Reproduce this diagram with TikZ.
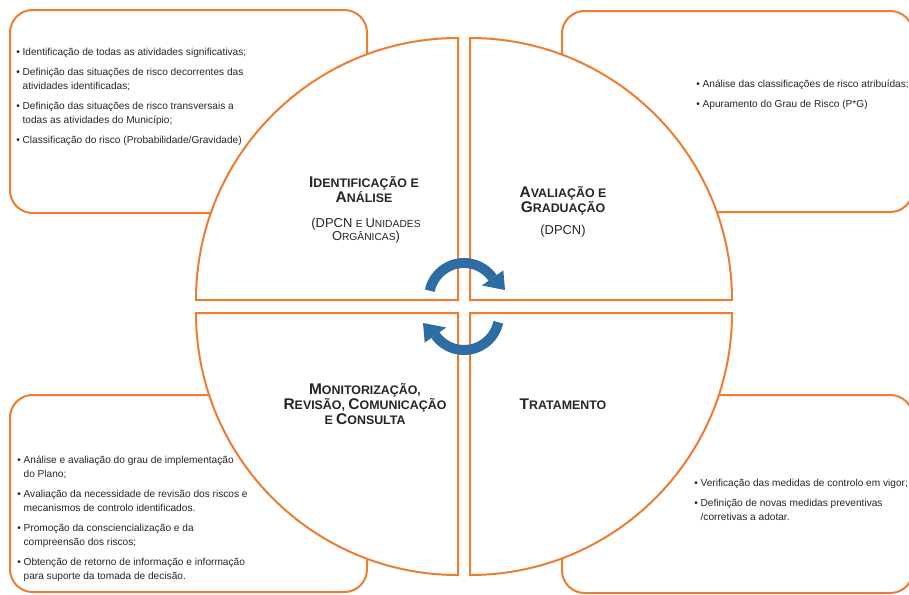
\documentclass[tikz,border=0pt]{standalone}
\usepackage{fontspec}
\setmainfont{Liberation Sans}
\definecolor{orng}{RGB}{237,125,49}
\definecolor{arrblue}{RGB}{46,109,164}
\definecolor{txt}{RGB}{38,38,38}
\newcommand\Lb[1]{{\fontsize{11.6}{11.6}\selectfont #1}}
\newcommand\Sb[1]{{\fontsize{9.3}{9.3}\selectfont #1}}
\newcommand\Lr[1]{{\fontsize{9.7}{9.7}\selectfont #1}}
\newcommand\Sr[1]{{\fontsize{7.7}{7.7}\selectfont #1}}
\newcommand\ind{\hphantom{•\ }}
\begin{document}
\begin{tikzpicture}[x=0.75pt,y=-0.75pt,
  box/.style={draw=orng,line width=1.5pt,rounded corners=17pt,fill=white},
  quad/.style={draw=orng,line width=1.5pt,fill=white},
  bullets/.style={anchor=base west,inner sep=0pt,text=txt,font=\fontsize{7.6}{10.5}\selectfont},
  title/.style={anchor=base,inner sep=0pt,text=txt,font=\bfseries},
  sub/.style={anchor=base,inner sep=0pt,text=txt},
  cyc/.style={arrblue,line width=7.5pt}]
\useasboundingbox (0,0) rectangle (909,594);
\fill[white] (0,0) rectangle (909,594);
% side boxes
\draw[box] (10,10) rectangle (367,213);
\draw[box] (562,11) rectangle (913,212);
\draw[box] (10,395) rectangle (367,592);
\draw[box] (562,395) rectangle (913,593);
% quadrants
\draw[quad] (458,300) -- (196,300) arc[start angle=180,end angle=270,radius=262] -- cycle;
\draw[quad] (470,300) -- (732,300) arc[start angle=0,end angle=-90,radius=262] -- cycle;
\draw[quad] (458,313) -- (196,313) arc[start angle=180,end angle=90,radius=262] -- cycle;
\draw[quad] (470,313) -- (732,313) arc[start angle=0,end angle=90,radius=262] -- cycle;
% cycle arrows
\draw[cyc] (429.76,290.72) arc[start angle=-168,end angle=-35,radius=35];
\fill[arrblue] (481.8,285.5) -- (503.3,270.4) -- (505,290) -- cycle;
\begin{scope}[rotate around={180:(464,306.5)}]
\draw[cyc] (429.76,290.72) arc[start angle=-168,end angle=-35,radius=35];
\fill[arrblue] (481.8,285.5) -- (503.3,270.4) -- (505,290) -- cycle;
\end{scope}
% titles
\node[title] (t1a) at (364,187) {\vtop{\baselineskip=11.25pt\halign{\hfil#\hfil\cr
  \Lb{I}\Sb{DENTIFICAÇÃO E}\cr \Lb{A}\Sb{NÁLISE}\cr}}};
\node[sub] (t1b) at (366,227) {\vtop{\baselineskip=9.75pt\halign{\hfil#\hfil\cr
  \Lr{(DPCN }\Sr{E }\Lr{U}\Sr{NIDADES}\cr \Lr{O}\Sr{RGÂNICAS}\Lr{)}\cr}}};
\node[title] (t2a) at (563,197) {\vtop{\baselineskip=11.25pt\halign{\hfil#\hfil\cr
  \Lb{A}\Sb{VALIAÇÃO E}\cr \Lb{G}\Sb{RADUAÇÃO}\cr}}};
\node[sub] (t2b) at (563,234) {\Lr{(DPCN)}};
\node[title] (t3) at (365,394) {\vtop{\baselineskip=11.25pt\halign{\hfil#\hfil\cr
  \Lb{M}\Sb{ONITORIZAÇÃO,}\cr \Lb{R}\Sb{EVISÃO, }\Lb{C}\Sb{OMUNICAÇÃO}\cr \Sb{E }\Lb{C}\Sb{ONSULTA}\cr}}};
\node[title] (t4) at (563,409) {\Lb{T}\Sb{RATAMENTO}};
% bullet lists
\node[bullets] (tl) at (16,55.5) {\vtop{\baselineskip=10.5pt
  \hbox{•\ Identificação de todas as atividades significativas;}\vskip4.5pt
  \hbox{•\ Definição das situações de risco decorrentes das}
  \hbox{\ind atividades identificadas;}\vskip4.5pt
  \hbox{•\ Definição das situações de risco transversais a}
  \hbox{\ind todas as atividades do Município;}\vskip4.5pt
  \hbox{•\ Classificação do risco (Probabilidade/Gravidade)}}};
\node[bullets] (tr) at (696,87.5) {\vtop{\baselineskip=10.5pt
  \hbox{•\ Análise das classificações de risco atribuídas;}\vskip4.5pt
  \hbox{•\ Apuramento do Grau de Risco (P*G)}}};
\node[bullets] (bl) at (17,463.5) {\vtop{\baselineskip=10.5pt
  \hbox{•\ Análise e avaliação do grau de implementação}
  \hbox{\ind do Plano;}\vskip4.5pt
  \hbox{•\ Avaliação da necessidade de revisão dos riscos e}
  \hbox{\ind mecanismos de controlo identificados.}\vskip4.5pt
  \hbox{•\ Promoção da consciencialização e da}
  \hbox{\ind compreensão dos riscos;}\vskip4.5pt
  \hbox{•\ Obtenção de retorno de informação e informação}
  \hbox{\ind para suporte da tomada de decisão.}}};
\node[bullets] (br) at (694,486) {\vtop{\baselineskip=10.5pt
  \hbox{•\ Verificação das medidas de controlo em vigor;}\vskip4.5pt
  \hbox{•\ Definição de novas medidas preventivas}
  \hbox{\ind /corretivas a adotar.}}};
\end{tikzpicture}
\end{document}
